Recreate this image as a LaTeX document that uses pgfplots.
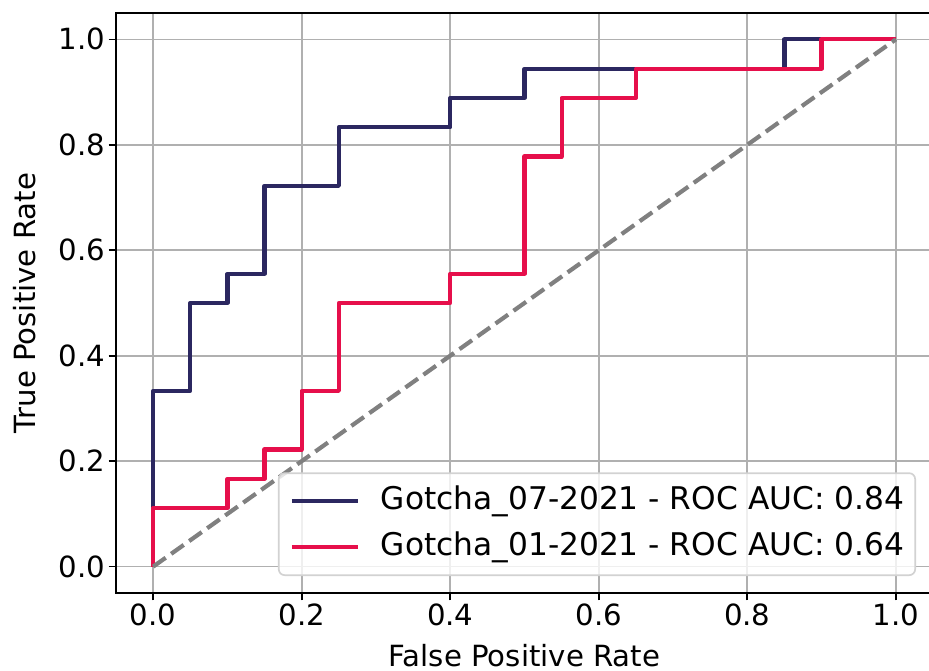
\documentclass[border=0pt]{standalone}
\usepackage{pgfplots}
\pgfplotsset{compat=1.18}
\usepackage{fontspec}
\setmainfont{DejaVu Sans}
\definecolor{navyc}{RGB}{43,39,96}
\definecolor{redc}{RGB}{230,15,75}
\definecolor{gridc}{RGB}{176,176,176}
\definecolor{legc}{RGB}{210,210,210}
\begin{document}
\begin{tikzpicture}
\begin{axis}[
  scale only axis, width=817pt, height=580pt,
  xmin=-0.05, xmax=1.05, ymin=-0.05, ymax=1.05,
  xtick={0,0.2,0.4,0.6,0.8,1.0}, ytick={0,0.2,0.4,0.6,0.8,1.0},
  tick pos=left, tick align=outside, major tick length=7.3pt,
  every tick/.style={black, line width=1.67pt},
  axis line style={black, line width=1.67pt},
  grid=major, major grid style={gridc, line width=1.67pt},
  /pgf/number format/assume math mode=true,
  xticklabel style={/pgf/number format/.cd, fixed, fixed zerofill, precision=1},
  yticklabel style={/pgf/number format/.cd, fixed, fixed zerofill, precision=1},
  tick label style={font=\fontsize{29.2}{35}\selectfont},
  label style={font=\fontsize{29.2}{35}\selectfont},
  xlabel={False Positive Rate}, ylabel={True Positive Rate},
  xlabel style={at={(axis description cs:0.5,-0.127)}, anchor=base, inner sep=0pt},
  ylabel style={at={(axis description cs:-0.0991,0.5)}, anchor=base, inner sep=0pt},
  legend style={at={(rel axis cs:0.9792,0.0293)}, anchor=south east, draw=legc, line width=1.67pt, rounded corners=6pt, fill=white, fill opacity=0.8, text opacity=1, font=\fontsize{31.25}{37}\selectfont, inner xsep=11pt, inner ysep=12pt, row sep=14pt, nodes={inner sep=0pt, text height=24pt, text depth=8pt}, /tikz/every odd column/.append style={column sep=21pt}},
  legend cell align=left,
  legend image code/.code={\draw[#1, line width=4.2pt] (0pt,0pt) -- (66pt,0pt);},
]
\addplot[navyc, line width=4.2pt, line join=round] coordinates {
(0,0)(0,0.3333)(0.05,0.3333)(0.05,0.5)(0.1,0.5)(0.1,0.5556)(0.15,0.5556)(0.15,0.7222)(0.25,0.7222)(0.25,0.8333)(0.4,0.8333)(0.4,0.8889)(0.5,0.8889)(0.5,0.9444)(0.85,0.9444)(0.85,1)(1,1)};
\addlegendentry{Gotcha\_07-2021 - ROC AUC: 0.84}
\addplot[redc, line width=4.2pt, line join=round] coordinates {
(0,0)(0,0.1111)(0.1,0.1111)(0.1,0.1667)(0.15,0.1667)(0.15,0.2222)(0.2,0.2222)(0.2,0.3333)(0.25,0.3333)(0.25,0.5)(0.4,0.5)(0.4,0.5556)(0.5,0.5556)(0.5,0.7778)(0.55,0.7778)(0.55,0.8889)(0.65,0.8889)(0.65,0.9444)(0.9,0.9444)(0.9,1)(1,1)};
\addlegendentry{Gotcha\_01-2021 - ROC AUC: 0.64}
\addplot[gray, line width=4.2pt, dash pattern=on 15.4pt off 6.7pt, forget plot] coordinates {(0,0)(1,1)};
\end{axis}
\pgfresetboundingbox
\path[use as bounding box] ([xshift=-116pt,yshift=-78pt]current axis.south west) rectangle ([xshift=-4pt,yshift=13pt]current axis.north east);
\end{tikzpicture}
\end{document}
